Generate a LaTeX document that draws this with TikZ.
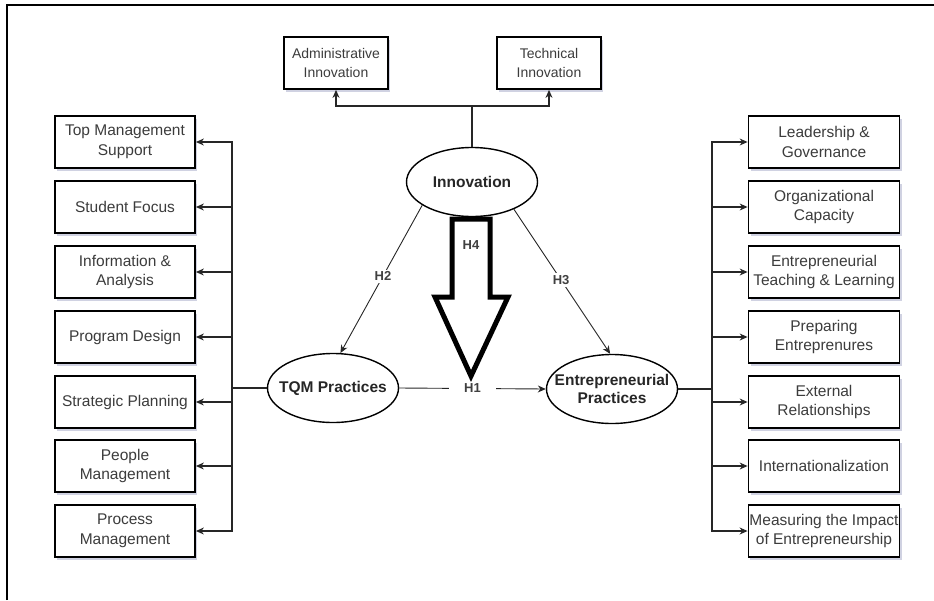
\documentclass[tikz,border=0pt]{standalone}
\usepackage{fontspec}
\setmainfont{Liberation Sans}
\usepackage{tikz}
\usetikzlibrary{shapes.geometric, arrows.meta, positioning, shadows}
\definecolor{boxtext}{RGB}{60,60,60}
\definecolor{shadowcolor}{RGB}{150,155,190}

\begin{document}
\begin{tikzpicture}[
    x=1pt, y=-1pt,
    dimbox/.style={draw, line width=1.8pt, fill=white, minimum height=52pt, align=center, text=boxtext,
        font=\fontsize{15.5}{19.5}\selectfont, inner sep=1pt,
        drop shadow={shadow xshift=2pt, shadow yshift=-3pt, fill=shadowcolor, opacity=0.45}},
    construct/.style={draw, line width=1.4pt, ellipse, fill=white, minimum width=131pt, minimum height=69pt,
        inner xsep=-12pt, inner ysep=0pt, align=center, font=\bfseries\fontsize{15.5}{18.5}\selectfont, text=black!85},
    hyp/.style={fill=white, inner sep=2pt, font=\bfseries\fontsize{13}{15}\selectfont, text=black!75},
    arrow/.style={-{Stealth[length=8pt, width=7pt]}, line width=1.1pt, draw=black!85}
]
    \useasboundingbox (0,0) rectangle (934,600);
    % Frame
    \draw[line width=1.3pt] (7,600) -- (7,5) -- (934,5);

    % Innovation and its dimensions
    \node[construct] (inn) at (472,182) {Innovation};
    \node[dimbox, minimum width=104pt, font=\fontsize{14}{19.5}\selectfont] (adm) at (336,63) {Administrative\\Innovation};
    \node[dimbox, minimum width=104pt, font=\fontsize{14}{19.5}\selectfont] (tech) at (549,63) {Technical\\Innovation};
    \coordinate (it) at (472,106);
    \draw[line width=1.1pt, draw=black!85] (inn.north) -- (it);
    \draw[arrow] (it) -| (adm.south);
    \draw[arrow] (it) -| (tech.south);

    % Constructs
    \node[construct] (tqm) at (333,388) {TQM Practices};
    \node[construct] (ent) at (612,389) {Entrepreneurial\\Practices};

    % TQM dimensions
    \node[dimbox, minimum width=140pt] (l1) at (125,142) {Top Management\\Support};
    \node[dimbox, minimum width=140pt] (l2) at (125,207) {Student Focus};
    \node[dimbox, minimum width=140pt] (l3) at (125,272) {Information \&\\Analysis};
    \node[dimbox, minimum width=140pt] (l4) at (125,337) {Program Design};
    \node[dimbox, minimum width=140pt] (l5) at (125,402) {Strategic Planning};
    \node[dimbox, minimum width=140pt] (l6) at (125,466) {People\\Management};
    \node[dimbox, minimum width=140pt] (l7) at (125,531) {Process\\Management};

    % Entrepreneurial dimensions
    \node[dimbox, minimum width=151pt] (r1) at (824,142) {Leadership \&\\Governance};
    \node[dimbox, minimum width=151pt] (r2) at (824,207) {Organizational\\Capacity};
    \node[dimbox, minimum width=151pt] (r3) at (824,272) {Entrepreneurial\\Teaching \& Learning};
    \node[dimbox, minimum width=151pt] (r4) at (824,337) {Preparing\\Entreprenures};
    \node[dimbox, minimum width=151pt] (r5) at (824,402) {External\\Relationships};
    \node[dimbox, minimum width=151pt] (r6) at (824,466) {Internationalization};
    \node[dimbox, minimum width=151pt] (r7) at (824,531) {Measuring the Impact\\of Entrepreneurship};

    % Buses
    \coordinate (lb) at (232,388);
    \coordinate (rb) at (712,389);
    \draw[line width=1.1pt, draw=black!85] (tqm.west) -- (lb);
    \draw[line width=1.1pt, draw=black!85] (ent.east) -- (rb);
    \foreach \i in {1,...,7} {
        \draw[arrow] (lb) |- (l\i.east);
        \draw[arrow] (rb) |- (r\i.west);
    }

    % Hypotheses
    \draw[arrow, line width=0.9pt] (inn.205) -- node[hyp, pos=0.48] {H2} (tqm.78);
    \draw[arrow, line width=0.9pt] (inn.327) -- node[hyp, pos=0.49] {H3} (ent.93);
    \draw[arrow, line width=0.9pt] (tqm.east) -- node[hyp, inner xsep=15pt] (h1) {H1} (ent.west);

    % Moderating effect
    \draw[line width=5pt, line join=miter, fill=white] (452,219) -- (452,297) -- (435,297) -- (471,376)
        -- (508,297) -- (490,297) -- (490,219) -- cycle;
    \node[hyp, inner sep=1pt] (h4) at (471,245) {H4};
\end{tikzpicture}
\end{document}
